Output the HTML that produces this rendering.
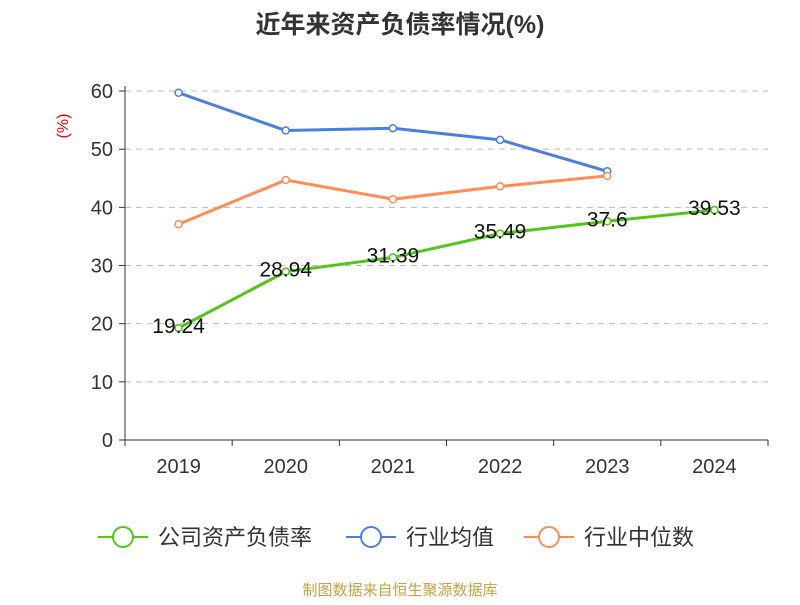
<!DOCTYPE html>
<html><head><meta charset="utf-8"><style>
body{margin:0;background:#fff;}
svg text{font-family:"Liberation Sans","Noto Sans CJK SC",sans-serif;}
</style></head><body>
<svg id="chart" width="800" height="600">
<text x="400" y="33" text-anchor="middle" font-size="25" font-weight="bold" fill="#333">近年来资产负债率情况(%)</text>
<text x="68" y="126" font-size="16" fill="#e00" transform="rotate(-90 68 126)" text-anchor="middle">(%)</text>
<g id="grid"></g><g id="axes"></g><g id="series"></g>
<g>
<g><line x1="98" y1="537" x2="148" y2="537" stroke="#52c41a" stroke-width="2"/><circle cx="123" cy="537" r="10" fill="#fff" stroke="#52c41a" stroke-width="2"/><text x="158" y="545" font-size="22" fill="#333">公司资产负债率</text></g>
<g><line x1="346" y1="537" x2="396" y2="537" stroke="#4a7fe0" stroke-width="2"/><circle cx="371" cy="537" r="10" fill="#fff" stroke="#4a7fe0" stroke-width="2"/><text x="406" y="545" font-size="22" fill="#333">行业均值</text></g>
<g><line x1="524" y1="537" x2="574" y2="537" stroke="#ff8c55" stroke-width="2"/><circle cx="549" cy="537" r="10" fill="#fff" stroke="#ff8c55" stroke-width="2"/><text x="584" y="545" font-size="22" fill="#333">行业中位数</text></g>
</g>
<text x="400" y="595" text-anchor="middle" font-size="15" fill="#c8a040">制图数据来自恒生聚源数据库</text>
</svg>
<script>
const categories=["2019","2020","2021","2022","2023","2024"];
const companyValues=[19.24,28.94,31.39,35.49,37.6,39.53];
const avgValues=[59.7,53.2,53.6,51.6,46.2];
const medianValues=[37.1,44.7,41.4,43.6,45.4];
const yTicks=[0,10,20,30,40,50,60];
const NS="http://www.w3.org/2000/svg";
const x0=125,x1=768,yBase=440,yTop=91,yMax=60;
const band=(x1-x0)/categories.length;
const xs=i=>x0+band*(i+0.5);
const ys=v=>yBase-(yBase-yTop)*v/yMax;
function mk(tag,attrs,parent,txt){const e=document.createElementNS(NS,tag);for(const k in attrs)e.setAttribute(k,attrs[k]);if(txt!==undefined)e.textContent=txt;parent.appendChild(e);return e;}
const grid=document.getElementById('grid'),axes=document.getElementById('axes'),series=document.getElementById('series');
yTicks.forEach(t=>{
  if(t>0){const l=mk('line',{x1:x0,x2:x1,y1:ys(t),y2:ys(t),stroke:'#bbb','stroke-dasharray':'6,5'},grid);
  
  }
  const tk=mk('line',{x1:x0-6,x2:x0,y1:ys(t),y2:ys(t),stroke:'#333'},axes);
  
  
  const tl=mk('text',{x:x0-12,y:ys(t)+7,'text-anchor':'end','font-size':20,fill:'#333'},axes,t);
  
  
});
const ya=mk('line',{x1:x0,x2:x0,y1:yTop-5,y2:yBase,stroke:'#333'},axes);


const xa=mk('line',{x1:x0,x2:x1,y1:yBase,y2:yBase,stroke:'#333'},axes);


for(let i=0;i<=categories.length;i++){const tk=mk('line',{x1:x0+band*i,x2:x0+band*i,y1:yBase,y2:yBase+6,stroke:'#333'},axes);

}
categories.forEach((c,i)=>{const t=mk('text',{x:xs(i),y:yBase+33,'text-anchor':'middle','font-size':20,fill:'#333'},axes,c);

});
function drawSeries(vals,color,name,labels){
  const g=mk('g',{},series);
  
  
  const p=mk('polyline',{points:vals.map((v,i)=>xs(i)+','+ys(v)).join(' '),fill:'none',stroke:color,'stroke-width':3},g);
  
  
  vals.forEach((v,i)=>{const c=mk('circle',{cx:xs(i),cy:ys(v),r:3.5,fill:'#fff',stroke:color,'stroke-width':1.5},g);
  
  
  if(labels){const t=mk('text',{x:xs(i),y:ys(v)+5,'text-anchor':'middle','font-size':21,fill:'#111'},g,v);
  
  }});
}
drawSeries(avgValues,'#4a7fe0','industry-avg-series',false);
drawSeries(medianValues,'#ff8c55','industry-median-series',false);
drawSeries(companyValues,'#52c41a','company-series',true);
</script>
</body></html>
